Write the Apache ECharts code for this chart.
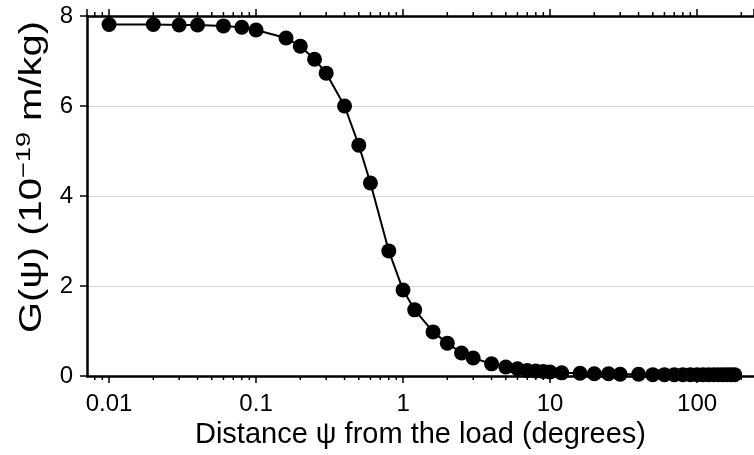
<!DOCTYPE html>
<html>
<head>
<meta charset="utf-8">
<script src="https://cdn.jsdelivr.net/npm/echarts@6/dist/echarts.min.js"></script>
<style>
html,body{margin:0;padding:0;background:#fff;}
#chart{width:754px;height:455px;}
</style>
</head>
<body>
<div id="chart"></div>
<script>
// Distance from the load (degrees)
const psi = [0.01,0.02,0.03,0.04,0.06,0.08,0.1,0.16,0.2,0.25,0.3,0.4,0.5,0.6,0.8,1.0,1.2,1.6,2.0,2.5,3.0,4,5,6,7,8,9,10,12,16,20,25,30,40,50,60,70,80,90,100,110,120,130,140,150,160,170,180];
// G(psi) in 10^-19 m/kg
const G = [7.81,7.81,7.80,7.80,7.78,7.75,7.69,7.51,7.33,7.04,6.73,6.00,5.13,4.29,2.78,1.91,1.47,0.98,0.73,0.51,0.40,0.27,0.20,0.16,0.12,0.11,0.10,0.09,0.07,0.06,0.05,0.05,0.04,0.04,0.03,0.03,0.03,0.03,0.03,0.03,0.03,0.03,0.03,0.03,0.03,0.03,0.03,0.03];
// minor tick positions of the log axis
const minorTicks = [0.008,0.009,0.02,0.03,0.04,0.05,0.06,0.07,0.08,0.09,0.2,0.3,0.4,0.5,0.6,0.7,0.8,0.9,2,3,4,5,6,7,8,9,20,30,40,50,60,70,80,90,200];
const yTicks = [0,2,4,6,8];
const xTitle = 'Distance \u03C8 from the load (degrees)';
const yTitle = '{a|G(\u03C8) (10}{s|\u221219}{a| m/kg)}';

const FONT = 'Liberation Sans, Arial, sans-serif';
const chart = echarts.init(document.getElementById('chart'), null, {renderer:'canvas'});

const pts = psi.map((x,i)=>[x, G[i]]);

chart.setOption({
  animation:false,
  backgroundColor:'#fff',
  grid:{left:87, right:0, top:16, bottom:79, containLabel:false},
  graphic:[{
    type:'text', x:32, y:177, rotation:Math.PI/2, scaleX:1.29, scaleY:1,
    silent:true,
    style:{
      text:yTitle, align:'center', verticalAlign:'middle', fill:'#000',
      font:'31px ' + FONT,
      rich:{
        a:{fontSize:31, fontFamily:FONT, fill:'#000', lineHeight:37},
        s:{fontSize:21, fontFamily:FONT, fill:'#000', verticalAlign:'top', lineHeight:22}
      }
    }
  }],
  xAxis:[{
    type:'log', logBase:10, min:0.00708, max:244,
    position:'bottom',
    axisLine:{show:true, onZero:false, lineStyle:{color:'#000', width:2.5}},
    axisTick:{show:true, length:7, inside:false, lineStyle:{color:'#000', width:1.5}},
    axisLabel:{show:true, fontSize:24, color:'#000', fontFamily:FONT, margin:16,
      showMinLabel:false, showMaxLabel:false,
      formatter:function(v){ return String(+v.toPrecision(3)); }},
    splitLine:{show:false},
    name:xTitle,
    nameLocation:'middle', nameGap:30,
    nameTextStyle:{fontSize:29, color:'#000', fontFamily:FONT}
  },{
    type:'log', logBase:10, min:0.00708, max:244,
    position:'top',
    axisLine:{show:true, onZero:false, lineStyle:{color:'#000', width:2.5}},
    axisTick:{show:true, length:7, inside:false, lineStyle:{color:'#000', width:1.5}},
    axisLabel:{show:false},
    splitLine:{show:false}
  }],
  yAxis:{
    type:'value', min:yTicks[0], max:yTicks[yTicks.length-1], interval:2,
    axisLine:{show:true, onZero:false, lineStyle:{color:'#000', width:2.5}},
    axisTick:{show:true, length:7, lineStyle:{color:'#000', width:1.5}},
    axisLabel:{fontSize:24, color:'#000', fontFamily:FONT, margin:14},
    splitLine:{show:true, lineStyle:{color:'#d4d4d4', width:1.2}}
  },
  series:[{
    type:'custom',
    xAxisIndex:0, yAxisIndex:0,
    clip:false, silent:true, z:1,
    data: minorTicks.map(v=>[v,0]),
    renderItem:function(params, api){
      const v = api.value(0);
      const b = api.coord([v, yTicks[0]]);
      const t = api.coord([v, yTicks[yTicks.length-1]]);
      return {type:'group', children:[
        {type:'line', shape:{x1:b[0], y1:b[1], x2:b[0], y2:b[1]+4}, style:{stroke:'#000', lineWidth:1.5}},
        {type:'line', shape:{x1:t[0], y1:t[1], x2:t[0], y2:t[1]-4}, style:{stroke:'#000', lineWidth:1.5}}
      ]};
    }
  },{
    type:'line',
    xAxisIndex:0, yAxisIndex:0,
    data: pts,
    symbol:'circle', symbolSize:15,
    clip:false, z:3,
    lineStyle:{color:'#000', width:2},
    itemStyle:{color:'#000'}
  }]
});
</script>
</body>
</html>
